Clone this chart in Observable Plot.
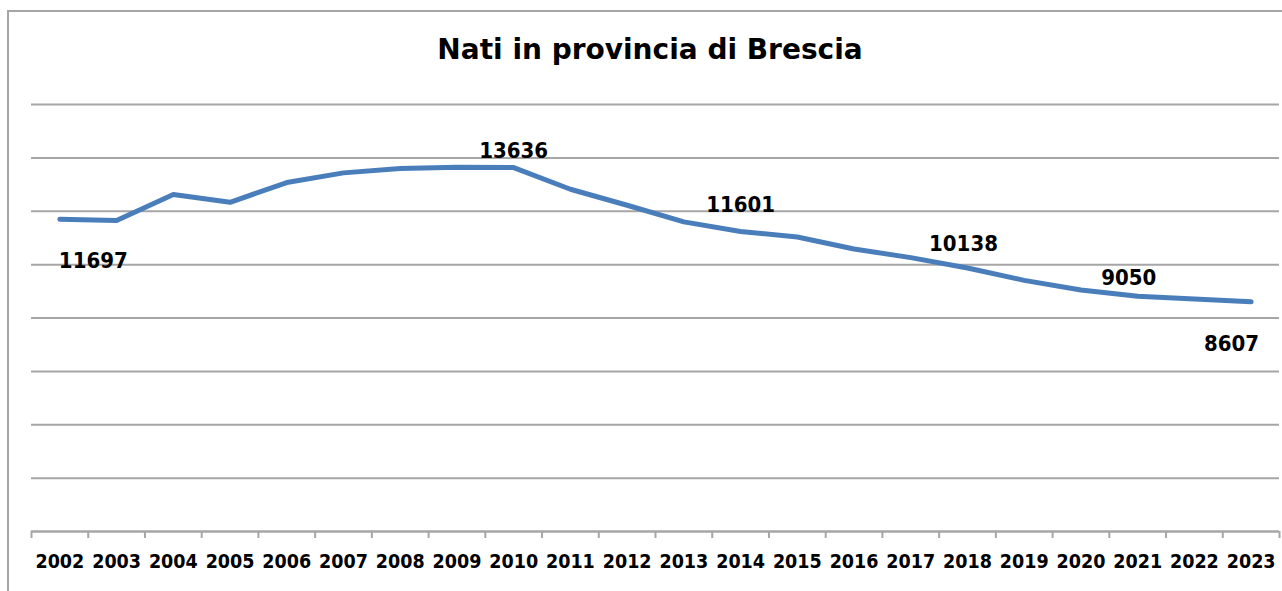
<!DOCTYPE html>
<html>
<head>
<meta charset="utf-8">
<script src="https://cdn.jsdelivr.net/npm/d3@7"></script>
<script src="https://cdn.jsdelivr.net/npm/@observablehq/plot@0.6"></script>
<style>
  html, body { margin: 0; padding: 0; background: #fff; }
  #wrap { position: relative; width: 1282px; height: 591px; overflow: hidden; }
  #frame { position: absolute; left: 7px; top: 10px; width: 1300px; height: 600px;
           border-top: 2px solid #a6a6a6; border-left: 2px solid #a6a6a6; box-sizing: border-box; }
  #title { position: absolute; left: 0; width: 1300px; top: 32px; text-align: center;
           font-family: "DejaVu Sans", sans-serif;
           font-weight: bold; font-size: 28px; color: #000; line-height: 36px; }
  #chart { position: absolute; left: 0; top: 80px; }
  #chart svg { font-family: "DejaVu Sans Condensed", "DejaVu Sans", sans-serif; font-stretch: condensed; }
</style>
</head>
<body>
<div id="wrap">
  <div id="frame"></div>
  <div id="title">Nati in provincia di Brescia</div>
  <div id="chart"></div>
</div>
<script>
const years = [2002,2003,2004,2005,2006,2007,2008,2009,2010,2011,2012,2013,2014,2015,2016,2017,2018,2019,2020,2021,2022,2023];
const births = [11697,11650,12625,12336,13075,13438,13600,13650,13636,12825,12225,11601,11240,11036,10586,10262,9873,9411,9050,8812,8711,8607];
const labelYears = [2002, 2010, 2014, 2018, 2021, 2023];
const labelValues = [11697, 13636, 11601, 10138, 9050, 8607];
const yTicks = [0,2000,4000,6000,8000,10000,12000,14000,16000];

const data = years.map((year, i) => ({year, value: births[i]}));
const labels = labelYears.map((year, i) => ({year, value: labelValues[i], text: String(labelValues[i])}));
const boundaries = [...years.map(y => y - 0.5), years[years.length - 1] + 0.5];

const textFont = {fontWeight: "bold", fill: "#000", fontSize: 22};

const chart = Plot.plot({
  width: 1282,
  height: 511,
  marginLeft: 31,
  marginRight: 3,
  marginTop: 24,
  marginBottom: 60,
  x: {type: "linear", domain: [years[0] - 0.5, years[years.length - 1] + 0.5], axis: null},
  y: {domain: [0, 16000], axis: null},
  marks: [
    Plot.gridY(yTicks, {stroke: "#a6a6a6", strokeOpacity: 1, strokeWidth: 2}),
    Plot.ruleY([0], {stroke: "#a6a6a6", strokeWidth: 2}),
    Plot.axisX({ticks: boundaries, tickSize: 7, tickFormat: () => "", stroke: "#a6a6a6", strokeWidth: 2, label: null}),
    Plot.axisX({ticks: years, tickSize: 0, tickPadding: 23, tickFormat: d => String(d),
                fontSize: 19.5, fontWeight: "bold", fill: "#000", label: null}),
    Plot.line(data, {x: "year", y: "value", stroke: "#4a7ebb", strokeWidth: 5,
                     strokeLinecap: "round", strokeLinejoin: "round"}),
    Plot.text(labels.filter(d => d.year === 2002), {x: "year", y: "value", text: "text", dy: 42, dx: -1, textAnchor: "start", ...textFont}),
    Plot.text(labels.filter(d => d.year === 2023), {x: "year", y: "value", text: "text", dy: 42, dx: 8, textAnchor: "end", ...textFont}),
    Plot.text(labels.filter(d => d.year === 2010 || d.year === 2014), {x: "year", y: "value", text: "text", dy: -17, ...textFont}),
    Plot.text(labels.filter(d => d.year === 2018), {x: "year", y: "value", text: "text", dy: -17, dx: -4, ...textFont}),
    Plot.text(labels.filter(d => d.year === 2021), {x: "year", y: "value", text: "text", dy: -12, dx: -9, ...textFont})
  ]
});
document.getElementById("chart").appendChild(chart);
</script>
</body>
</html>
